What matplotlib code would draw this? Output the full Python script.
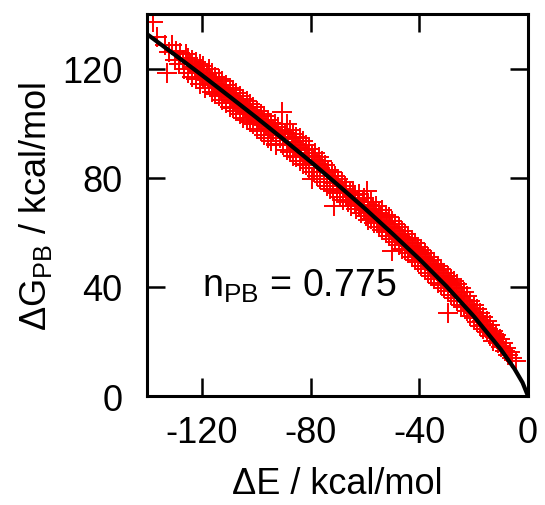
import matplotlib
matplotlib.use("Agg")
import matplotlib.pyplot as plt

plt.rcParams['font.family'] = ['Liberation Sans', 'DejaVu Sans']
plt.rcParams['mathtext.fontset'] = 'custom'
plt.rcParams['mathtext.rm'] = 'Liberation Sans'
plt.rcParams['mathtext.it'] = 'Liberation Sans:italic'
plt.rcParams['axes.unicode_minus'] = False

# fitted curve
curveE = [-140, -130, -120, -110, -100, -90, -80, -70, -60, -50, -40, -30,
          -20, -10, -5, -2, 0]
curveG = [132.5, 125.1, 117.6, 109.9, 102.1, 94.1, 85.9, 77.4, 68.7, 59.6,
          50.2, 40.2, 29.3, 17.1, 10.0, 4.9, 0.0]

# scatter points (dE, dG_PB)
dE = [-138.0, -136.5, -132.7, -133.5, -132.0, -131.0, -130.0, -129.5, -128.5,
      -128.0, -127.0, -126.5, -126.0,
      -125.0, -125.0, -124.2, -123.5, -123.5, -122.6, -122.0, -122.0, -121.3,
      -120.7, -120.7, -120.0, -119.4, -119.4, -118.8, -118.2, -117.5, -117.5,
      -116.9, -116.2, -116.2, -115.6, -115.0, -115.0, -114.3, -113.7, -113.7,
      -113.0, -112.4, -112.4, -111.8, -111.1, -111.1, -110.5, -109.8, -109.8,
      -109.2, -108.6, -108.6, -108.0, -107.3, -107.3, -106.7, -106.0, -106.0,
      -105.4, -104.7, -104.7, -104.1, -103.5, -103.5, -102.8, -102.2, -102.2,
      -101.6, -101.0, -101.0, -100.3, -99.7, -99.7, -99.0, -98.4, -98.4,
      -97.8, -97.1, -97.1, -96.5, -95.8, -95.8, -95.2, -94.5, -94.5, -93.9,
      -93.2, -92.7, -92.6, -92.6, -92.0, -91.3, -90.5, -90.5, -90.0,
      -89.4, -88.8, -88.8, -88.2, -87.6, -87.6, -87.0, -86.4, -86.4, -85.8,
      -85.2, -85.2, -84.6, -84.0, -84.0, -83.4, -82.8, -82.8, -82.2, -81.6,
      -81.6, -81.0, -80.4, -80.4, -79.4, -79.4, -78.8, -78.8, -78.2, -77.6,
      -77.6, -77.0, -76.4, -76.4, -75.8, -75.2, -75.2, -74.6, -74.0, -74.0,
      -73.4, -72.8, -72.8, -72.2, -71.6, -71.6, -71.4, -71.0, -70.4, -70.4,
      -69.8, -69.2, -69.2, -68.6, -68.0, -68.0, -67.4, -66.8, -66.8, -66.2,
      -65.6, -65.0, -65.0, -64.4, -63.8, -63.8, -63.2, -62.6, -62.0, -62.0,
      -61.4, -60.8, -60.2, -60.2,
      -59.6, -59.3, -59.0, -59.0, -58.4, -57.8, -57.8, -57.2, -56.6, -56.6,
      -56.0, -55.4, -54.8, -54.8, -54.2, -53.6, -53.6, -53.0, -52.4, -52.4,
      -51.8, -51.2, -51.2, -50.6, -50.1, -50.0, -50.0, -49.4, -48.8, -48.8,
      -48.2, -47.6, -47.6, -47.0, -46.4, -46.4, -45.8, -45.2, -45.2, -44.6,
      -44.0, -44.0, -43.4, -42.8, -42.8, -42.2, -41.6, -41.6, -41.0, -40.4,
      -40.4, -39.8, -39.2, -39.2, -38.6, -38.0, -38.0, -37.4, -36.8, -36.8,
      -36.2, -35.6, -35.6, -35.0, -34.4, -34.4, -33.8, -33.2, -33.2, -32.6,
      -32.0, -32.0, -31.4, -30.8, -30.8, -30.2,
      -29.6, -29.6, -29.5, -29.0, -28.4, -28.4, -27.8, -27.2, -27.2, -26.6,
      -26.0, -26.0, -25.4, -24.8, -24.8, -24.2, -23.6, -23.6, -23.0, -22.4,
      -22.4, -21.8, -21.2, -21.2, -20.6, -20.0, -20.0, -19.4, -18.8, -18.8,
      -18.2, -17.6, -17.6, -17.0, -16.4, -16.4, -15.8, -15.2, -15.2, -14.6,
      -14.0, -14.0, -13.4, -12.8, -12.8, -12.2, -11.6, -11.0, -10.4, -9.8,
      -9.2, -8.6, -8.0, -7.4, -6.8, -6.0, -4.5]
dG = [137.0, 131.5, 118.2, 128.5, 126.0, 128.8, 123.0, 126.5, 121.5,
      125.8, 123.0, 120.0, 125.5,
      124.0, 118.5, 121.5, 117.0, 123.0, 120.5, 116.0, 122.5, 119.0,
      114.5, 121.5, 118.5, 116.0, 121.0, 113.0, 117.5, 120.0, 114.0,
      116.5, 111.5, 118.5, 114.5, 117.0, 110.8, 113.5, 116.0, 110.0,
      112.5, 115.5, 108.5, 111.5, 114.0, 107.5, 110.5, 113.0, 106.0,
      109.5, 112.0, 105.5, 108.5, 111.0, 104.5, 107.5, 110.0, 103.5,
      106.5, 109.0, 102.0, 105.5, 108.0, 101.0, 104.0, 107.0, 100.5,
      103.5, 106.0, 99.5, 102.5, 104.5, 98.0, 101.5, 103.5, 97.0,
      100.5, 102.5, 95.5, 99.0, 101.0, 94.5, 98.0, 100.0, 93.5, 97.5,
      99.5, 92.5, 95.5, 92.0, 98.5, 94.5, 104.2, 97.0, 92.0,
      96.5, 99.5, 90.0, 94.5, 97.5, 89.5, 93.0, 96.0, 88.0, 92.0,
      95.0, 87.5, 91.0, 94.5, 86.0, 90.0, 93.5, 85.0, 89.0, 92.0,
      84.5, 88.0, 90.5, 83.5, 79.6, 88.0, 86.5, 82.0, 89.0, 85.0,
      80.5, 87.5, 83.5, 79.5, 86.0, 82.0, 78.5, 84.5, 80.5, 77.0,
      83.0, 79.5, 76.0, 82.0, 78.0, 75.0, 69.5, 80.5, 77.0, 74.5,
      79.5, 75.5, 73.0, 78.5, 74.5, 72.0, 77.0, 73.0, 76.0, 71.0,
      74.5, 72.0, 69.5, 75.0, 70.5, 73.5, 68.5, 72.0, 69.5, 74.0,
      67.0, 71.0, 68.0, 72.5,
      66.0, 75.0, 70.0, 64.5, 67.5, 71.0, 65.0, 68.5, 63.5, 67.0,
      69.5, 64.0, 67.0, 62.0, 65.5, 68.0, 61.0, 63.5, 66.5, 60.0,
      63.0, 65.5, 58.5, 61.5, 53.0, 64.0, 57.5, 60.5, 63.0, 56.5,
      59.5, 62.0, 55.5, 58.5, 60.5, 54.0, 57.5, 59.5, 53.5, 56.0,
      58.0, 52.5, 55.0, 57.0, 51.0, 54.0, 56.0, 50.0, 53.0, 54.5,
      49.0, 52.0, 53.5, 47.5, 50.5, 52.5, 46.5, 49.5, 51.0, 45.0,
      48.0, 50.0, 44.0, 47.0, 48.5, 43.0, 46.0, 47.5, 41.5, 45.0,
      46.5, 40.5, 43.5, 45.0, 39.5, 42.5,
      44.0, 38.5, 30.5, 41.5, 43.0, 37.0, 40.5, 42.0, 36.0, 39.5,
      41.0, 35.0, 38.0, 39.5, 33.5, 36.5, 38.0, 32.5, 35.0, 36.5,
      31.0, 33.5, 35.0, 29.5, 32.0, 33.5, 28.5, 30.5, 32.0, 27.0,
      29.0, 30.5, 25.5, 27.5, 29.0, 24.5, 26.0, 27.5, 23.5, 24.5,
      26.0, 22.0, 23.0, 24.0, 20.0, 21.5, 22.5, 19.5, 21.0, 18.0,
      19.5, 16.5, 17.5, 15.0, 16.0, 14.0, 13.0]

fig = plt.figure(figsize=(5.45, 5.06), dpi=100)
ax = fig.add_axes([0.2706, 0.2154, 0.6982, 0.7550])

ax.plot(dE, dG, linestyle='none', marker='+', color='red',
        markersize=14, markeredgewidth=1.4, zorder=2)
ax.plot(curveE, curveG, color='black', linewidth=3.0, zorder=3)

ax.set_xlim(-140, 0)
ax.set_ylim(0, 140)
ax.set_xticks([-120, -80, -40, 0])
ax.set_yticks([0, 40, 80, 120])

for s in ax.spines.values():
    s.set_linewidth(2.2)
ax.tick_params(direction='in', length=13, width=1.8, labelsize=26,
               top=True, right=True)
ax.tick_params(axis='x', pad=14)
ax.tick_params(axis='y', pad=18)

ax.set_xlabel('ΔE / kcal/mol', fontsize=26, labelpad=11)
ax.set_ylabel('ΔG$_\\mathrm{PB}$ / kcal/mol', fontsize=26, labelpad=6)

ax.text(-120, 36.7, 'n$_\\mathrm{PB}$ = 0.775', fontsize=27,
        ha='left', va='baseline')

fig.savefig('out.png', dpi=100)
